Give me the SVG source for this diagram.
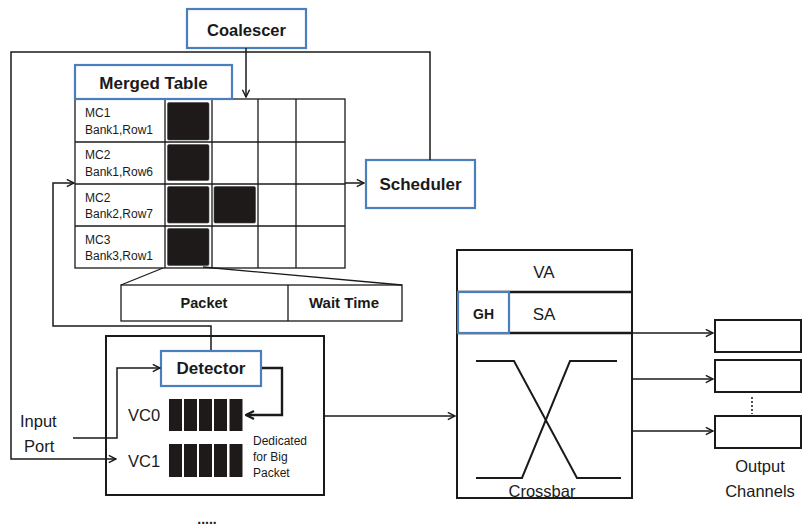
<svg xmlns="http://www.w3.org/2000/svg" width="803" height="531" viewBox="0 0 803 531">
<defs>
<marker id="arr" viewBox="0 0 10 10" refX="9" refY="5" markerWidth="9" markerHeight="9" markerUnits="userSpaceOnUse" orient="auto">
<path d="M1,1 L9,5 L1,9" fill="none" stroke="#1a1a1a" stroke-width="1.6"/>
</marker>
<marker id="arrB" viewBox="0 0 10 10" refX="9" refY="5" markerWidth="10" markerHeight="10" markerUnits="userSpaceOnUse" orient="auto">
<path d="M1,1 L9,5 L1,9" fill="none" stroke="#1a1a1a" stroke-width="2.2"/>
</marker>
</defs>
<style>
text{font-family:"Liberation Sans",Arial,sans-serif;fill:#1a1a1a}
.b{font-weight:bold}
.blue{fill:#fff;stroke:#4a7ebd;stroke-width:2.2}
.box{fill:#fff;stroke:#1a1a1a;stroke-width:2}
.ln{fill:none;stroke:#1a1a1a;stroke-width:1.5}
.grid{fill:none;stroke:#1a1a1a;stroke-width:1.3}
.blk{fill:#1f1a1a;stroke:#444;stroke-width:0.6}
.bar{fill:#1f1a1a}
</style>
<rect width="803" height="531" fill="#fff"/>

<g id="coalescer">
<rect class="blue" x="187" y="9" width="119" height="39"/>
<text class="b" x="246.5" y="36" font-size="16.5" text-anchor="middle">Coalescer</text>
</g>

<g id="merged-table">
<g class="grid">
<rect x="75" y="99" width="270" height="169"/>
<line x1="75" y1="142" x2="345" y2="142"/>
<line x1="75" y1="184" x2="345" y2="184"/>
<line x1="75" y1="226" x2="345" y2="226"/>
<line x1="165" y1="99" x2="165" y2="268"/>
<line x1="212" y1="99" x2="212" y2="268"/>
<line x1="258" y1="99" x2="258" y2="268"/>
<line x1="296" y1="99" x2="296" y2="268"/>
</g>
<rect class="blk" x="167.5" y="102.5" width="41.5" height="37.5" rx="1.5"/>
<rect class="blk" x="167.5" y="144.5" width="41.5" height="36" rx="1.5"/>
<rect class="blk" x="167.5" y="186.5" width="41.5" height="36.5" rx="1.5"/>
<rect class="blk" x="214" y="186.5" width="41.5" height="36.5" rx="1.5"/>
<rect class="blk" x="167.5" y="228.5" width="41.5" height="37" rx="1.5"/>
<g font-size="12">
<text x="85" y="117">MC1</text><text x="85" y="134">Bank1,Row1</text>
<text x="85" y="159">MC2</text><text x="85" y="176">Bank1,Row6</text>
<text x="85" y="202">MC2</text><text x="85" y="218">Bank2,Row7</text>
<text x="85" y="244">MC3</text><text x="85" y="260">Bank3,Row1</text>
</g>
<rect class="blue" x="75" y="65" width="157" height="34"/>
<text class="b" x="153.5" y="89" font-size="17" text-anchor="middle">Merged Table</text>
</g>

<g id="entry">
<polyline class="grid" points="163,268 121,285"/>
<polyline class="grid" points="203,267 402,285"/>
<rect class="grid" x="121" y="285" width="281" height="36"/>
<line class="grid" x1="288" y1="285" x2="288" y2="321"/>
<text class="b" x="204" y="308" font-size="14.5" text-anchor="middle">Packet</text>
<text class="b" x="344" y="308" font-size="15" text-anchor="middle">Wait Time</text>
</g>

<g id="scheduler">
<rect class="blue" x="366" y="160" width="109" height="48"/>
<text class="b" x="420.5" y="190" font-size="17" text-anchor="middle">Scheduler</text>
</g>

<g id="input-unit">
<rect class="box" x="106" y="336" width="218" height="159"/>
<g class="bar">
<rect x="169" y="399" width="13" height="32"/><rect x="184" y="399" width="13" height="32"/><rect x="199" y="399" width="13" height="32"/><rect x="214" y="399" width="13" height="32"/><rect x="229.5" y="399" width="13" height="32"/>
<rect x="169" y="444" width="13" height="33"/><rect x="184" y="444" width="13" height="33"/><rect x="199" y="444" width="13" height="33"/><rect x="214" y="444" width="13" height="33"/><rect x="229.5" y="444" width="13" height="33"/>
</g>
<text x="128" y="421" font-size="16.5">VC0</text>
<text x="128" y="467" font-size="16.5">VC1</text>
<g font-size="12">
<text x="253" y="445">Dedicated</text>
<text x="253" y="461">for Big</text>
<text x="253" y="477">Packet</text>
</g>
</g>

<g id="detector">
<rect class="blue" x="161" y="351" width="100" height="35"/>
<text class="b" x="211" y="374" font-size="17" text-anchor="middle">Detector</text>
</g>

<g id="input-port">
<text x="20" y="427" font-size="16.5">Input</text>
<text x="24" y="452" font-size="16.5">Port</text>
</g>

<text x="207" y="524" font-size="14" font-weight="bold" text-anchor="middle">.....</text>

<g id="crossbar">
<rect class="box" x="457" y="250" width="175" height="248"/>
<line x1="457" y1="292" x2="632" y2="292" stroke="#1a1a1a" stroke-width="2.4"/>
<line x1="457" y1="333" x2="632" y2="333" stroke="#1a1a1a" stroke-width="2.4"/>
<text x="544" y="278" font-size="17" text-anchor="middle">VA</text>
<text x="544" y="320" font-size="17" text-anchor="middle">SA</text>
<polyline fill="none" stroke="#1a1a1a" stroke-width="2" points="476,361 514,361 577,478 621,478"/>
<polyline fill="none" stroke="#1a1a1a" stroke-width="2" points="476,478 522,478 570,361 617,361"/>
<text x="542" y="497" font-size="16.5" text-anchor="middle">Crossbar</text>
</g>

<g id="gh">
<rect class="blue" x="458" y="292" width="51" height="41"/>
<text class="b" x="483.5" y="319" font-size="14" text-anchor="middle">GH</text>
</g>

<g id="output-channels">
<rect class="box" x="715" y="320" width="86" height="32"/>
<rect class="box" x="715" y="360" width="86" height="32"/>
<rect class="box" x="715" y="416" width="86" height="32"/>
<text x="760" y="472" font-size="16.5" text-anchor="middle">Output</text>
<text x="760" y="497" font-size="16.5" text-anchor="middle">Channels</text>
</g>

<g id="connectors">
<polyline class="ln" points="430,160 430,52 11,52 11,459 116,459" marker-end="url(#arr)"/>
<line class="ln" x1="246" y1="48" x2="246" y2="97" marker-end="url(#arr)"/>
<polyline class="ln" points="211,350 211,326 53,326 53,183 74,183" marker-end="url(#arr)"/>
<line class="ln" x1="345" y1="183" x2="364" y2="183" marker-end="url(#arr)"/>
<polyline class="ln" points="73,438 117,438 117,368 160,368" marker-end="url(#arr)"/>
<polyline class="ln" style="stroke-width:2.4" points="262,368 282,368 282,415 246,415" marker-end="url(#arrB)"/>
<line class="ln" x1="325" y1="416" x2="455" y2="416" marker-end="url(#arr)"/>
<line class="ln" x1="633" y1="333" x2="713" y2="333" marker-end="url(#arr)"/>
<line class="ln" x1="633" y1="379" x2="713" y2="379" marker-end="url(#arr)"/>
<line class="ln" x1="633" y1="431" x2="713" y2="431" marker-end="url(#arr)"/>
<line x1="752" y1="397" x2="752" y2="414" stroke="#1a1a1a" stroke-width="1.5" stroke-dasharray="2,2"/>
</g>
</svg>
